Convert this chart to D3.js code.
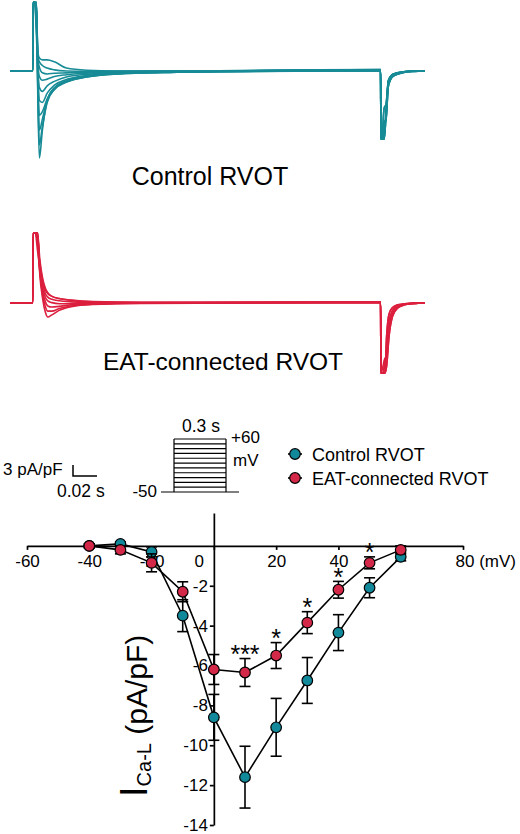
<!DOCTYPE html>
<html>
<head>
<meta charset="utf-8">
<script src="https://cdn.jsdelivr.net/npm/d3@7"></script>
<style>
  body { margin: 0; background: #fff; }
  svg { display: block; font-family: "Liberation Sans", Arial, sans-serif; }
</style>
</head>
<body>
<script>
// ---- I-V data (mV, pA/pF) ----
var voltages = [-40, -30, -20, -10, 0, 10, 20, 30, 40, 50, 60];
var controlMean = [0, 0.1, -0.3, -3.5, -8.6, -11.6, -9.1, -6.75, -4.35, -2.1, -0.55];
var controlSem = [0.1, 0.1, 0.25, 0.8, 1.15, 1.55, 1.45, 1.15, 0.9, 0.5, 0.2];
var eatMean = [0, -0.2, -0.85, -2.3, -6.2, -6.35, -5.5, -3.85, -2.2, -0.85, -0.2];
var eatSem = [0.1, 0.2, 0.45, 0.5, 0.75, 0.7, 0.65, 0.55, 0.42, 0.3, 0.2];
var sigVoltages = [10, 20, 30, 40, 50];
var sigLabels = ["***", "*", "*", "*", "*"];
var xTicks = [-60, -40, -20, 0, 20, 40, 80];
var yTicks = [-2, -4, -6, -8, -10, -12, -14];

// ---- current traces (ms after step onset, pA/pF) ----
var controlSpike = 18.6;
var controlTime = [1.5, 3, 4.3, 5.5, 8, 12, 18, 28, 45, 70, 120];
var controlSweeps = [
  [18.6, 18.6, -9, -23.5, -16, -8, -4.5, -2.6, -1.4, -0.7, -0.3],
  [18.6, 16, -7, -20, -15, -8.5, -5, -3, -1.6, -0.8, -0.3],
  [18.6, 13, -5, -16, -13, -8, -5, -3, -1.6, -0.8, -0.3],
  [18.6, 18.6, -3, -12, -11, -7.5, -4.6, -2.8, -1.5, -0.7, -0.3],
  [18.6, 10, -1, -8, -8.5, -6, -3.8, -2.3, -1.2, -0.6, -0.2],
  [18.6, 17, 1, -4.5, -5.5, -4, -2.8, -1.6, -0.9, -0.4, -0.2],
  [18.6, 14, 2, -1.5, -2.5, -2.2, -1.5, -1, -0.6, -0.3, -0.1],
  [18.6, 18.6, 3, 1, -0.5, -0.8, -0.6, -0.5, -0.3, -0.2, 0],
  [18.6, 12, 4, 2.5, 1.5, 0.8, 0.3, 0, -0.1, 0, 0],
  [18.6, 16, 5, 3.5, 3, 3, 2.5, 0.8, 0.2, 0, 0]
];
var controlTailTime = [290, 290.3, 291.5, 293, 294.5, 296.5, 300.5, 309, 318, 327];
var controlTails = [
  [0.2, -18.4, -18.4, -18.4, -12, -3.2, -1.1, -0.3, 0, 0],
  [0.1, -18.4, -18.4, -14, -13, -4, -1.4, -0.4, -0.1, 0],
  [0.4, -18.4, -18.4, -17, -11, -2.8, -0.9, -0.2, 0, 0],
  [0.3, -18.4, -16, -10, -9, -2.5, -0.8, -0.2, 0, 0]
];

var eatSpike = 19;
var eatTime = [2, 4, 5.8, 8.3, 10.5, 12.5, 16, 22, 32, 50, 90];
var eatSweeps = [
  [19, 19, 8, 1, -2.5, -3.8, -3.2, -2, -1, -0.4, -0.1],
  [19, 16, 8.5, 2, -1, -2.2, -2.2, -1.5, -0.8, -0.3, 0],
  [19, 19, 9, 3, 0.3, -0.8, -1.1, -0.9, -0.5, -0.2, 0],
  [19, 14, 9.5, 4, 1.5, 0.6, 0.1, -0.2, -0.2, -0.1, 0],
  [19, 18, 10, 5, 2.5, 1.6, 1, 0.6, 0.3, 0.1, 0.1],
  [19, 17, 11, 6, 3.5, 2.5, 1.8, 1.2, 0.7, 0.3, 0.1],
  [19, 19, 12, 6.5, 4, 2.8, 1.8, 1.2, 0.8, 0.4, 0.2]
];
var eatTailTime = [290, 290.3, 292, 293.5, 295, 297, 300, 304, 310, 318, 327];
var eatTails = [
  [0.2, -19, -19, -19, -9, -3, -1.2, -0.5, -0.2, 0, 0],
  [0.1, -19, -19, -16, -13, -5, -2, -0.8, -0.3, -0.1, 0],
  [0.3, -19, -19, -19, -17, -9, -3.5, -1.4, -0.5, -0.1, 0],
  [0.2, -19, -17, -15, -15, -7, -2.7, -1.1, -0.4, -0.1, 0]
];

// ---- voltage protocol ----
var protocolLevels = [-50, -40, -30, -20, -10, 0, 10, 20, 30, 40, 50, 60];
var protocolStep = [0, 0.3]; // s

var teal = "#178b96";
var red = "#dc1f3e";
var tealDot = "#12899a";
var redDot = "#d42848";

var svg = d3.select("body").append("svg")
  .attr("width", 520)
  .attr("height", 834);

// ---------- traces ----------
var tx = d3.scaleLinear().domain([-19, 327]).range([10, 425]);
var tyControl = d3.scaleLinear().domain([-20, 20]).range([71 + 74, 71 - 74]);
var tyEat = d3.scaleLinear().domain([-20, 20]).range([303 + 74, 303 - 74]);

function sweepPoints(spike, times, vals, tailTimes, tail) {
  var pts = [[-19, 0], [0, 0], [0.3, spike]];
  times.forEach(function(t, i) { pts.push([t, vals[i]]); });
  tailTimes.forEach(function(t, i) { pts.push([t, tail[i]]); });
  return pts;
}

function drawTraces(sweeps, times, spike, tailTimes, tails, yScale, color) {
  var line = d3.line()
    .x(function(d) { return tx(d[0]); })
    .y(function(d) { return yScale(d[1]); })
    .curve(d3.curveMonotoneX);

  svg.append("g")
    .selectAll("path")
    .data(sweeps)
    .enter().append("path")
    .attr("d", function(s, i) {
      return line(sweepPoints(spike, times, s, tailTimes, tails[i % tails.length]));
    })
    .attr("fill", "none")
    .attr("stroke", color)
    .attr("stroke-width", 1.6)
    .attr("stroke-linejoin", "round");
}

drawTraces(controlSweeps, controlTime, controlSpike, controlTailTime, controlTails, tyControl, teal);
drawTraces(eatSweeps, eatTime, eatSpike, eatTailTime, eatTails, tyEat, red);

svg.append("text")
  .attr("x", 210).attr("y", 185)
  .attr("text-anchor", "middle")
  .style("font-size", "25px")
  .text("Control RVOT");

svg.append("text")
  .attr("x", 223).attr("y", 370)
  .attr("text-anchor", "middle")
  .style("font-size", "24.5px")
  .text("EAT-connected RVOT");

// ---------- scale bar (3 pA/pF, 0.02 s in trace units) ----------
var bar = svg.append("g");
var barX = 73, barY = 476;
bar.append("path")
  .attr("d", "M" + barX + "," + (barY - (tyControl(0) - tyControl(3))) +
        "V" + barY + "H" + (barX + (tx(20) - tx(0))))
  .attr("fill", "none")
  .attr("stroke", "#000")
  .attr("stroke-width", 1.5);
bar.append("text").attr("x", 3).attr("y", 475).style("font-size", "17px").text("3 pA/pF");
bar.append("text").attr("x", 57).attr("y", 497).style("font-size", "17.5px").text("0.02 s");

// ---------- protocol ----------
var px = d3.scaleLinear().domain([-0.075, 0.375]).range([161, 239]);
var py = d3.scaleLinear().domain([-50, 60]).range([492, 439]);
var proto = svg.append("g")
  .attr("fill", "none")
  .attr("stroke", "#000")
  .attr("stroke-width", 1.2);
proto.append("path")
  .attr("d", "M" + px(-0.075) + "," + py(-50) + "H" + px(0.375) +
        "M" + px(protocolStep[0]) + "," + py(-50) + "V" + py(60) +
        "M" + px(protocolStep[1]) + "," + py(-50) + "V" + py(60));
proto.selectAll("line")
  .data(protocolLevels.slice(1))
  .enter().append("line")
  .attr("x1", px(protocolStep[0]))
  .attr("x2", px(protocolStep[1]))
  .attr("y1", function(d) { return py(d); })
  .attr("y2", function(d) { return py(d); });

svg.append("text").attr("x", 201).attr("y", 432).attr("text-anchor", "middle")
  .style("font-size", "17.5px").text("0.3 s");
svg.append("text").attr("x", 231).attr("y", 443).style("font-size", "17px").text("+60");
svg.append("text").attr("x", 233).attr("y", 466).style("font-size", "17px").text("mV");
svg.append("text").attr("x", 157).attr("y", 497).attr("text-anchor", "end")
  .style("font-size", "17px").text("-50");

// ---------- legend ----------
var legend = svg.append("g");
var legendItems = [
  {label: "Control RVOT", fill: tealDot},
  {label: "EAT-connected RVOT", fill: redDot}
];
legendItems.forEach(function(item, i) {
  var ly = 454 + i * 24;
  legend.append("line")
    .attr("x1", 288).attr("x2", 302).attr("y1", ly).attr("y2", ly)
    .attr("stroke", "#000").attr("stroke-width", 1.6);
  legend.append("circle")
    .attr("cx", 295).attr("cy", ly).attr("r", 5.3)
    .attr("fill", item.fill).attr("stroke", "#000").attr("stroke-width", 1.2);
  legend.append("text")
    .attr("x", 312).attr("y", ly + 6.5)
    .style("font-size", "18px")
    .text(item.label);
});

// ---------- I-V plot ----------
var x = d3.scaleLinear().domain([-60, 80]).range([27, 463]);
var y = d3.scaleLinear().domain([-14, 1.65]).range([825, 513]);

var fmt = function(d) { return String(d); };
var xAxis = d3.axisBottom(x).tickValues(xTicks).tickFormat(fmt)
  .tickSize(4).tickSizeOuter(0).tickPadding(5);
var yAxis = d3.axisLeft(y).tickValues(yTicks).tickFormat(fmt)
  .tickSize(4).tickSizeOuter(0).tickPadding(2);

var gx = svg.append("g")
  .attr("transform", "translate(0," + y(0) + ")")
  .call(xAxis);
var gy = svg.append("g")
  .attr("transform", "translate(" + x(0) + ",0)")
  .call(yAxis);

[gx, gy].forEach(function(g) {
  g.selectAll("path, line").attr("stroke", "#000").attr("stroke-width", 1.7);
  g.selectAll("text").attr("fill", "#000")
    .style("font-size", "17px")
    .style("font-family", "'Liberation Sans', Arial, sans-serif");
});
gx.selectAll(".tick").filter(function(d) { return d === 0; })
  .select("text").attr("x", -15);
gx.selectAll(".tick").filter(function(d) { return d === 80; })
  .select("text").attr("text-anchor", "start").attr("x", -8).text("80 (mV)");

svg.append("text")
  .attr("transform", "translate(147,797) rotate(-90)")
  .call(function(t) {
    t.append("tspan").style("font-size", "38px").text("I");
    t.append("tspan").style("font-size", "20px").attr("dy", 4).text("Ca-L");
    t.append("tspan").style("font-size", "30px").attr("dy", -4).text(" (pA/pF)");
  });

function drawSeries(mean, sem, fill) {
  var g = svg.append("g");
  var pts = voltages.map(function(v, i) { return {v: v, m: mean[i], s: sem[i]}; });

  var eb = g.append("g").attr("stroke", "#000").attr("stroke-width", 1.6);
  pts.forEach(function(d) {
    var cx = x(d.v);
    eb.append("line").attr("x1", cx).attr("x2", cx)
      .attr("y1", y(d.m + d.s)).attr("y2", y(d.m - d.s));
    eb.append("line").attr("x1", cx - 5.5).attr("x2", cx + 5.5)
      .attr("y1", y(d.m + d.s)).attr("y2", y(d.m + d.s));
    eb.append("line").attr("x1", cx - 5.5).attr("x2", cx + 5.5)
      .attr("y1", y(d.m - d.s)).attr("y2", y(d.m - d.s));
  });

  g.append("path")
    .datum(pts)
    .attr("d", d3.line().x(function(d) { return x(d.v); }).y(function(d) { return y(d.m); }))
    .attr("fill", "none")
    .attr("stroke", "#000")
    .attr("stroke-width", 1.6);

  g.selectAll("circle")
    .data(pts)
    .enter().append("circle")
    .attr("cx", function(d) { return x(d.v); })
    .attr("cy", function(d) { return y(d.m); })
    .attr("r", 5.3)
    .attr("fill", fill)
    .attr("stroke", "#000")
    .attr("stroke-width", 1.2);
}

drawSeries(controlMean, controlSem, tealDot);
drawSeries(eatMean, eatSem, redDot);

// significance marks above EAT points
svg.append("g").selectAll("text")
  .data(sigVoltages)
  .enter().append("text")
  .attr("x", function(v) { return x(v); })
  .attr("y", function(v) {
    var i = voltages.indexOf(v);
    return y(eatMean[i] + eatSem[i]) + 4.5;
  })
  .attr("text-anchor", "middle")
  .style("font-size", "25px")
  .text(function(v, i) { return sigLabels[i]; });
</script>
</body>
</html>
